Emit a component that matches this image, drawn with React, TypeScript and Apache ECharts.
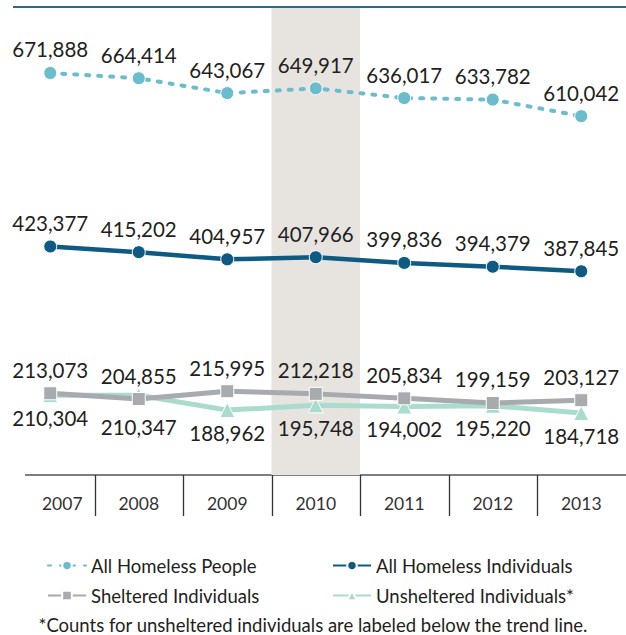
import React, { useEffect, useRef } from "react";
import * as echarts from "echarts";

const years = ["2007", "2008", "2009", "2010", "2011", "2012", "2013"];
const allPeople = [671888, 664414, 643067, 649917, 636017, 633782, 610042];
const allIndividuals = [423377, 415202, 404957, 407966, 399836, 394379, 387845];
const sheltered = [213073, 204855, 215995, 212218, 205834, 199159, 203127];
const unsheltered = [210304, 210347, 188962, 195748, 194002, 195220, 184718];
const highlightYear = "2010";
const seriesNames = [
  "All Homeless People",
  "All Homeless Individuals",
  "Sheltered Individuals",
  "Unsheltered Individuals*",
];
const footnote = "*Counts for unsheltered individuals are labeled below the trend line.";

const FONT = "Lato, 'Noto Sans', sans-serif";
const TEXT = "#231f20";

export default function App() {
  const ref = useRef<HTMLDivElement>(null);
  useEffect(() => {
    if (!ref.current) return;
    const chart = echarts.init(ref.current, undefined, { renderer: "svg" });
    const fmt = (p: any) => Number(p.value).toLocaleString("en-US");
    const labelBase = {
      show: true,
      formatter: fmt,
      fontSize: 20.5,
      fontFamily: FONT,
      color: TEXT,
      distance: 6,
    };
    const legendCommon = {
      itemWidth: 38,
      itemHeight: 12,
      itemGap: 0,
      padding: 0,
      textStyle: { fontSize: 18.5, color: TEXT, fontFamily: FONT },
    };
    chart.setOption({
      animation: false,
      grid: { left: 6, right: 0.5, top: 8, bottom: 160 },
      xAxis: {
        type: "category",
        data: years,
        boundaryGap: true,
        axisLine: { show: false },
        axisTick: { show: false },
        axisLabel: {
          fontSize: 17.5,
          fontFamily: FONT,
          color: "#333",
          margin: 19,
          formatter: (v: string, i: number) => (i === 0 ? `{a|${v}}` : v),
          rich: { a: { fontSize: 17.5, fontFamily: FONT, color: "#333", padding: [0, 0, 0, 24] } },
        },
      },
      yAxis: [
        { type: "value", min: 96000, max: 765000, show: false },
        { type: "value", min: 0, max: 1, show: false },
      ],
      legend: [
        { ...legendCommon, data: [seriesNames[0]], left: 47, top: 556 },
        { ...legendCommon, data: [seriesNames[1]], left: 332, top: 556 },
        { ...legendCommon, data: [seriesNames[2]], left: 47, top: 586 },
        { ...legendCommon, data: [seriesNames[3]], left: 332, top: 586 },
      ],
      title: {
        text: footnote,
        left: "center",
        top: 615,
        padding: 0,
        textStyle: { fontSize: 18.5, fontWeight: "normal", color: TEXT, fontFamily: FONT },
      },
      series: [
        {
          type: "bar",
          yAxisIndex: 1,
          data: years.map((y) => (y === highlightYear ? 1 : null)),
          barWidth: "100%",
          itemStyle: { color: "#e7e4e0" },
          silent: true,
          z: 0,
        },
        {
          name: seriesNames[0],
          type: "line",
          data: allPeople,
          symbol: "circle",
          symbolSize: 13,
          lineStyle: { color: "#6bbccc", width: 4, type: [3, 9], cap: "round" },
          itemStyle: { color: "#6bbccc", borderColor: "#fff", borderWidth: 1 },
          label: { ...labelBase, position: "top" },
          z: 3,
        },
        {
          name: seriesNames[1],
          type: "line",
          data: allIndividuals,
          symbol: "circle",
          symbolSize: 13,
          lineStyle: { color: "#0e5a82", width: 4.5 },
          itemStyle: { color: "#0e5a82", borderColor: "#fff", borderWidth: 1 },
          label: { ...labelBase, position: "top" },
          z: 3,
        },
        {
          name: seriesNames[3],
          type: "line",
          data: unsheltered.map((v, i) =>
            i === 1 ? { value: v, label: { distance: 13 } } : v
          ),
          symbol: "triangle",
          symbolSize: 15,
          lineStyle: { color: "#a9dccd", width: 5 },
          itemStyle: { color: "#a9dccd", borderColor: "#fff", borderWidth: 1 },
          label: { ...labelBase, position: "bottom", distance: 4 },
          z: 3,
        },
        {
          name: seriesNames[2],
          type: "line",
          data: sheltered,
          symbol: "rect",
          symbolSize: 13,
          lineStyle: { color: "#a7aaae", width: 5 },
          itemStyle: { color: "#a7aaae", borderColor: "#fff", borderWidth: 1 },
          label: { ...labelBase, position: "top" },
          z: 4,
        },
      ],
    });

    const xs = years.map((y) => chart.convertToPixel({ xAxisIndex: 0 }, y) as number);
    const seps: any[] = [];
    for (let i = 0; i < xs.length - 1; i++) {
      const x = Math.round((xs[i] + xs[i + 1]) / 2) + 0.5;
      seps.push({
        type: "line",
        shape: { x1: x, y1: 475, x2: x, y2: 516 },
        style: { stroke: "#333", lineWidth: 1.3 },
        silent: true,
      });
    }
    chart.setOption({
      graphic: [
        {
          type: "line",
          shape: { x1: 13, y1: 7, x2: 626, y2: 7 },
          style: { stroke: "#2b6a8e", lineWidth: 2 },
          silent: true,
        },
        {
          type: "line",
          shape: { x1: 25, y1: 475, x2: 626, y2: 475 },
          style: { stroke: "#555", lineWidth: 1.6 },
          silent: true,
        },
        ...seps,
      ],
    });
    return () => chart.dispose();
  }, []);
  return (
    <div
      ref={ref}
      style={{ position: "fixed", left: 0, top: 0, width: 626, height: 635, background: "#fff" }}
    />
  );
}
